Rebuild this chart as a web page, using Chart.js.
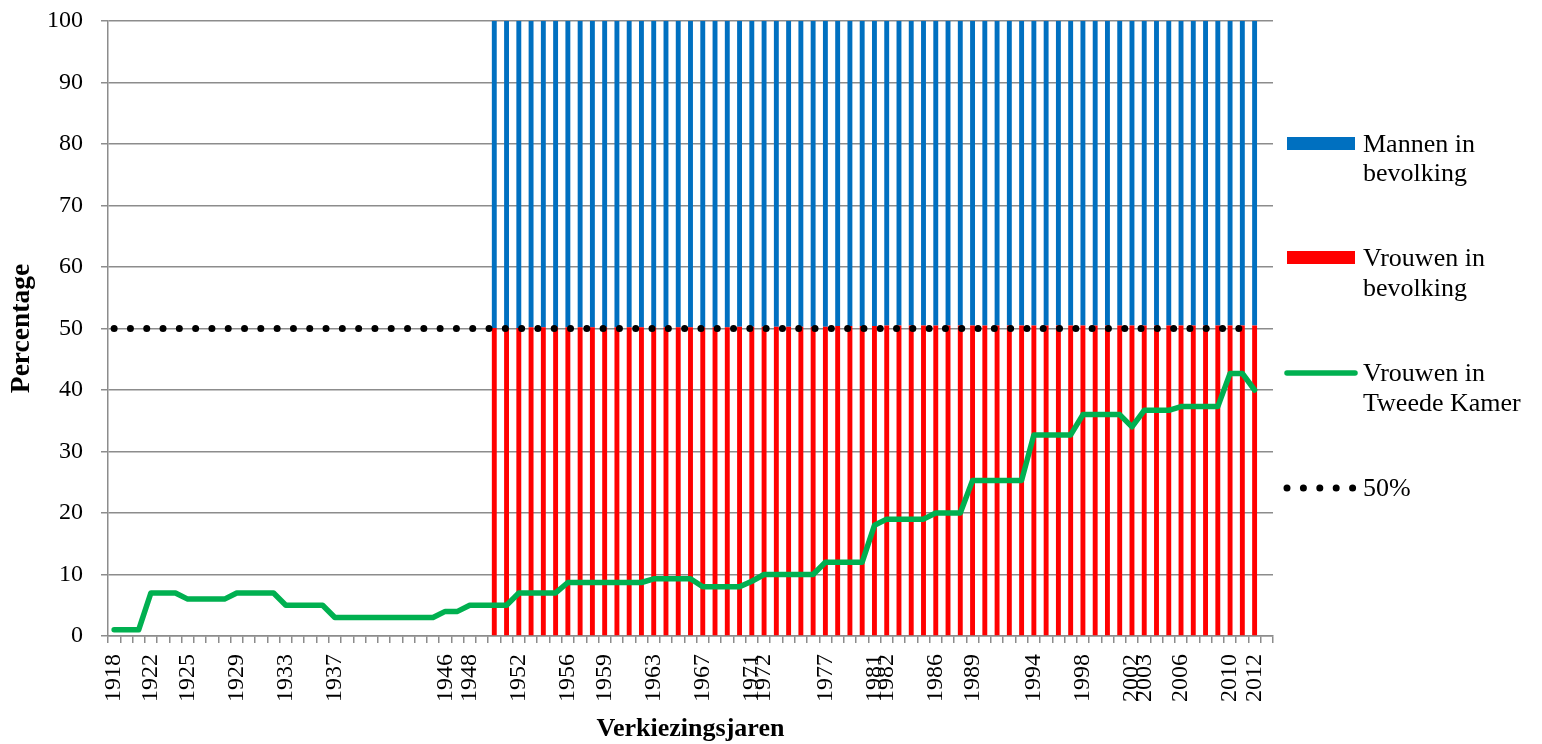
<!DOCTYPE html>
<html>
<head>
<meta charset="utf-8">
<script src="https://cdn.jsdelivr.net/npm/chart.js@4.4.1/dist/chart.umd.min.js"></script>
<style>
  html, body { margin: 0; padding: 0; background: #fff; }
  #grafiek { display: block; }
</style>
</head>
<body>
<canvas id="grafiek" width="1542" height="744"></canvas>
<script>
// Categorieën: eerste plek 1918, daarna elk jaar 1920 t/m 2013
var jaren = [1918];
for (var j = 1920; j <= 2013; j++) jaren.push(j);

// Jaren die als label onder de as staan
var verkiezingsjaren = [1918, 1922, 1925, 1929, 1933, 1937, 1946, 1948, 1952, 1956,
    1959, 1963, 1967, 1971, 1972, 1977, 1981, 1982, 1986, 1989, 1994, 1998, 2002,
    2003, 2006, 2010, 2012];

// Percentage vrouwen in de Tweede Kamer, 1918 t/m 2012 (per categorie)
var vrouwenKamer = [
    1, 1, 1,
    7, 7, 7,
    6, 6, 6, 6,
    7, 7, 7, 7,
    5, 5, 5, 5,
    3, 3, 3, 3, 3, 3, 3, 3, 3,
    4, 4,
    5, 5, 5, 5,
    7, 7, 7, 7,
    8.7, 8.7, 8.7, 8.7, 8.7, 8.7, 8.7,
    9.3, 9.3, 9.3, 9.3,
    8, 8, 8, 8,
    8.9,
    10, 10, 10, 10, 10,
    12, 12, 12, 12,
    18,
    19, 19, 19, 19,
    20, 20, 20,
    25.3, 25.3, 25.3, 25.3, 25.3,
    32.7, 32.7, 32.7, 32.7,
    36, 36, 36, 36,
    34,
    36.7, 36.7, 36.7,
    37.3, 37.3, 37.3, 37.3,
    42.7, 42.7,
    40
];

// Bevolking vanaf 1950 t/m 2012
var bevolkingVanaf = 1950;
var vrouwenBevolking = [
    50.1, 50.1, 50.1, 50.2, 50.2, 50.2, 50.2, 50.2, 50.2, 50.2,
    50.2, 50.2, 50.2, 50.2, 50.2, 50.2, 50.2, 50.2, 50.2, 50.2,
    50.3, 50.3, 50.3, 50.3, 50.3, 50.3, 50.3, 50.3, 50.4, 50.4,
    50.4, 50.4, 50.5, 50.5, 50.5, 50.5, 50.5, 50.5, 50.5, 50.5,
    50.5, 50.5, 50.5, 50.5, 50.5, 50.5, 50.5, 50.5, 50.5, 50.5,
    50.5, 50.5, 50.5, 50.5, 50.5, 50.5, 50.5, 50.5, 50.5, 50.5,
    50.5, 50.5, 50.5
];
var mannenBevolking = [
    49.9, 49.9, 49.9, 49.8, 49.8, 49.8, 49.8, 49.8, 49.8, 49.8,
    49.8, 49.8, 49.8, 49.8, 49.8, 49.8, 49.8, 49.8, 49.8, 49.8,
    49.7, 49.7, 49.7, 49.7, 49.7, 49.7, 49.7, 49.7, 49.6, 49.6,
    49.6, 49.6, 49.5, 49.5, 49.5, 49.5, 49.5, 49.5, 49.5, 49.5,
    49.5, 49.5, 49.5, 49.5, 49.5, 49.5, 49.5, 49.5, 49.5, 49.5,
    49.5, 49.5, 49.5, 49.5, 49.5, 49.5, 49.5, 49.5, 49.5, 49.5,
    49.5, 49.5, 49.5
];

// 50%-lijn van eerste tot laatste verkiezing
var helftJaren = ['1918', '2012'];
var helftWaarden = [50, 50];

var blauw = '#0070C0';
var rood = '#FF0000';
var groen = '#00B050';
var grijs = '#8c8c8c';
var lettertype = '"Liberation Serif", "Times New Roman", serif';

var labels = jaren.map(String);

function vanafJaar(start, waarden) {
    return waarden.map(function(v, i) { return { x: String(start + i), y: v }; });
}

// Legenda rechts, met labels over twee regels
var zijLegenda = {
    id: 'zijLegenda',
    afterDraw: function(chart) {
        var ctx = chart.ctx;
        var x0 = 1287, tx = 1363;
        ctx.save();
        ctx.font = '26px ' + lettertype;
        ctx.textBaseline = 'middle';

        ctx.fillStyle = blauw;
        ctx.fillRect(x0, 137, 68, 13);
        ctx.fillStyle = rood;
        ctx.fillRect(x0, 251, 68, 13);

        ctx.strokeStyle = groen;
        ctx.lineWidth = 5.5;
        ctx.lineCap = 'round';
        ctx.beginPath();
        ctx.moveTo(x0, 373);
        ctx.lineTo(x0 + 68, 373);
        ctx.stroke();

        ctx.strokeStyle = '#000';
        ctx.lineWidth = 7;
        ctx.setLineDash([0, 16.4]);
        ctx.beginPath();
        ctx.moveTo(x0, 488);
        ctx.lineTo(x0 + 67, 488);
        ctx.stroke();
        ctx.setLineDash([]);

        ctx.fillStyle = '#000';
        ctx.fillText('Mannen in', tx, 145);
        ctx.fillText('bevolking', tx, 174);
        ctx.fillText('Vrouwen in', tx, 259);
        ctx.fillText('bevolking', tx, 289);
        ctx.fillText('Vrouwen in', tx, 374);
        ctx.fillText('Tweede Kamer', tx, 404);
        ctx.fillText('50%', tx, 489);
        ctx.restore();
    }
};

new Chart(document.getElementById('grafiek').getContext('2d'), {
    type: 'bar',
    data: {
        labels: labels,
        datasets: [{
            label: 'Mannen in bevolking',
            data: vanafJaar(bevolkingVanaf, mannenBevolking),
            backgroundColor: blauw,
            stack: 'bevolking',
            barPercentage: 0.4,
            categoryPercentage: 1,
            order: 3
        }, {
            label: 'Vrouwen in bevolking',
            data: vanafJaar(bevolkingVanaf, vrouwenBevolking),
            backgroundColor: rood,
            stack: 'bevolking',
            barPercentage: 0.4,
            categoryPercentage: 1,
            order: 2
        }, {
            type: 'line',
            label: 'Vrouwen in Tweede Kamer',
            data: vrouwenKamer,
            borderColor: groen,
            backgroundColor: groen,
            borderWidth: 5.5,
            borderJoinStyle: 'round',
            borderCapStyle: 'round',
            pointRadius: 0,
            tension: 0,
            stack: 'kamer',
            order: 1
        }, {
            type: 'line',
            label: '50%',
            data: helftJaren.map(function(x, i) { return { x: x, y: helftWaarden[i] }; }),
            borderColor: '#000',
            borderWidth: 7,
            borderDash: [0, 16.3],
            borderCapStyle: 'round',
            pointRadius: 0,
            spanGaps: true,
            stack: 'helft',
            order: 0
        }]
    },
    options: {
        responsive: false,
        animation: false,
        layout: { padding: { left: 0, top: 21, right: 269, bottom: 0 } },
        plugins: {
            legend: { display: false },
            tooltip: { enabled: false }
        },
        scales: {
            x: {
                stacked: true,
                afterFit: function(scale) {
                    scale.height = 108;
                    scale.paddingLeft = 0;
                    scale.paddingRight = 0;
                },
                grid: {
                    drawOnChartArea: false,
                    drawTicks: true,
                    tickLength: 7,
                    color: grijs,
                    lineWidth: 1.5,
                    offset: true
                },
                border: { color: grijs, width: 1.5 },
                ticks: {
                    autoSkip: false,
                    maxRotation: 90,
                    minRotation: 90,
                    padding: 11,
                    color: '#000',
                    font: { family: lettertype, size: 24 },
                    callback: function(val, i) {
                        return verkiezingsjaren.indexOf(jaren[i]) >= 0 ? String(jaren[i]) : '';
                    }
                },
                title: {
                    display: true,
                    text: 'Verkiezingsjaren',
                    color: '#000',
                    font: { family: lettertype, size: 26, weight: 'bold', lineHeight: 1.1 },
                    padding: { top: 0, bottom: 0 }
                }
            },
            y: {
                stacked: true,
                min: 0,
                max: 100,
                afterFit: function(scale) {
                    scale.width = 108;
                    scale.paddingTop = 0;
                    scale.paddingBottom = 0;
                },
                grid: {
                    color: grijs,
                    lineWidth: 1.5,
                    tickLength: 7
                },
                border: { color: grijs, width: 1.5 },
                ticks: {
                    stepSize: 10,
                    padding: 18,
                    color: '#000',
                    font: { family: lettertype, size: 24 }
                },
                title: {
                    display: true,
                    text: 'Percentage',
                    color: '#000',
                    font: { family: lettertype, size: 27.5, weight: 'bold', lineHeight: 1 },
                    padding: { top: 8, bottom: 0 }
                }
            }
        }
    },
    plugins: [zijLegenda]
});
</script>
</body>
</html>
